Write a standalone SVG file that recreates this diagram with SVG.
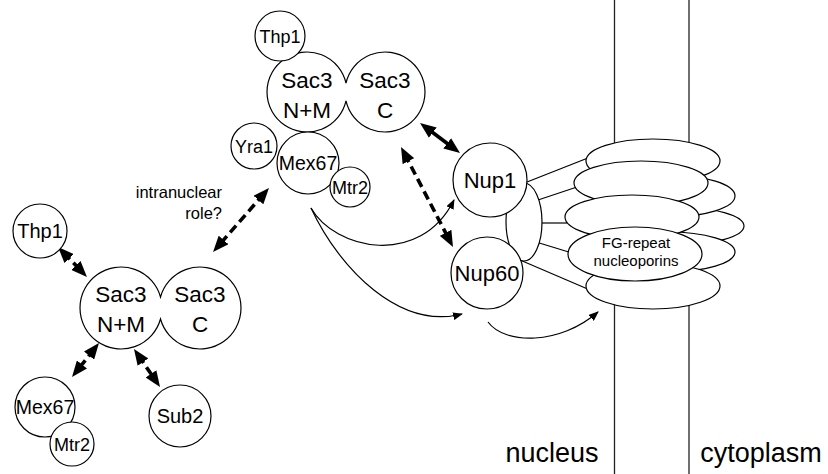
<svg xmlns="http://www.w3.org/2000/svg" width="828" height="474" viewBox="0 0 828 474">
<defs>
<style>
.n{fill:#fff;stroke:#000;stroke-width:1.2}
.t{font-family:"Liberation Sans",Arial,sans-serif;text-anchor:middle;fill:#000}
.big{stroke:#000;stroke-width:3.6;fill:none}
.dash{stroke-dasharray:9 5}
.thin{stroke:#000;stroke-width:1.2;fill:none}
.wall{stroke:#222;stroke-width:1.3}
</style>
<marker id="hb" markerUnits="userSpaceOnUse" markerWidth="16" markerHeight="13" refX="8" refY="6.5" orient="auto-start-reverse"><path d="M0,0 L16,6.5 L0,13 Z" fill="#000"/></marker>
<marker id="hs" markerUnits="userSpaceOnUse" markerWidth="10" markerHeight="8" refX="9" refY="4" orient="auto"><path d="M0,0 L10,4 L0,8 Z" fill="#000"/></marker>
</defs>
<rect width="828" height="474" fill="#fff"/>

<g id="walls">
<line class="wall" x1="614.5" y1="0" x2="614.5" y2="474"/>
<line class="wall" x1="689" y1="0" x2="689" y2="474"/>
<text class="t" x="552" y="462" font-size="27">nucleus</text>
<text class="t" x="761" y="462" font-size="27">cytoplasm</text>
</g>

<g id="pore-links">
<line class="thin" x1="527" y1="182" x2="593" y2="156"/>
<line class="thin" x1="538" y1="200" x2="577" y2="187"/>
<line class="thin" x1="540" y1="223" x2="567" y2="223"/>
<line class="thin" x1="536" y1="242" x2="572" y2="253"/>
<line class="thin" x1="520" y1="260" x2="590" y2="290"/>
</g>

<g id="pore">
<ellipse class="n" cx="677" cy="226" rx="67" ry="19"/>
<ellipse class="n" cx="668" cy="196" rx="67" ry="21"/>
<ellipse class="n" cx="668" cy="252" rx="67" ry="20"/>
<ellipse class="n" cx="653" cy="161" rx="67" ry="22"/>
<ellipse class="n" cx="641" cy="183" rx="67" ry="22"/>
<ellipse class="n" cx="632" cy="217" rx="67" ry="22"/>
<ellipse class="n" cx="653" cy="286" rx="67" ry="23"/>
<g id="fg">
<ellipse class="n" cx="635" cy="254" rx="67" ry="27"/>
<text class="t" x="636" y="248" font-size="15">FG-repeat</text>
<text class="t" x="636" y="266" font-size="15">nucleoporins</text>
</g>
</g>

<g id="nup-linker">
<ellipse class="n" cx="524" cy="222" rx="18" ry="39"/>
</g>

<g id="connectors">
<line class="big dash" x1="63.6" y1="252.8" x2="81.4" y2="271.2" marker-start="url(#hb)" marker-end="url(#hb)"/>
<line class="big dash" x1="94" y1="349.3" x2="77" y2="370.7" marker-start="url(#hb)" marker-end="url(#hb)"/>
<line class="big dash" x1="138.5" y1="355.6" x2="155.5" y2="380.4" marker-start="url(#hb)" marker-end="url(#hb)"/>
<line class="big dash" x1="263.7" y1="194" x2="218.3" y2="246" marker-start="url(#hb)" marker-end="url(#hb)"/>
<line class="big" x1="426.4" y1="127.8" x2="453.6" y2="148.2" marker-start="url(#hb)" marker-end="url(#hb)"/>
<line class="big dash" x1="404.7" y1="154.1" x2="449.3" y2="239.9" marker-start="url(#hb)" marker-end="url(#hb)"/>
<path class="thin" d="M311,208 C335,250 420,268 454,200" marker-end="url(#hs)"/>
<path class="thin" d="M311,208 C340,270 400,330 462,314" marker-end="url(#hs)"/>
<path class="thin" d="M488,322 C505,345 560,345 598,312" marker-end="url(#hs)"/>
<text class="t" x="222" y="198" font-size="16.5" style="text-anchor:end">intranuclear</text>
<text class="t" x="222" y="219" font-size="16.5" style="text-anchor:end">role?</text>
</g>

<g id="sac3-top">
<path class="n" d="M346,83.1 A40,40 0 1,0 346,100.9 A40,40 0 1,0 346,83.1 Z"/>
<text class="t" x="307" y="88" font-size="22.5">Sac3</text>
<text class="t" x="307" y="118" font-size="22.5">N+M</text>
<text class="t" x="385" y="88" font-size="22.5">Sac3</text>
<text class="t" x="385" y="118" font-size="22.5">C</text>
</g>
<g id="thp1-top">
<circle class="n" cx="280" cy="36" r="25"/>
<text class="t" x="280" y="42.5" font-size="18">Thp1</text>
</g>
<g id="yra1-top">
<circle class="n" cx="254" cy="146" r="23"/>
<text class="t" x="254" y="152.5" font-size="18">Yra1</text>
</g>
<g id="mex67-top">
<circle class="n" cx="308" cy="163" r="31"/>
<text class="t" x="308" y="170" font-size="19.5">Mex67</text>
</g>
<g id="mtr2-top">
<circle class="n" cx="350" cy="187" r="20"/>
<text class="t" x="350" y="193.5" font-size="18">Mtr2</text>
</g>

<g id="nup1">
<circle class="n" cx="490" cy="180" r="37"/>
<text class="t" x="490" y="188" font-size="22">Nup1</text>
</g>
<g id="nup60">
<circle class="n" cx="487" cy="273" r="36"/>
<text class="t" x="487" y="281" font-size="22">Nup60</text>
</g>

<g id="sac3-left">
<path class="n" d="M160.5,297 A41,41 0 1,0 160.5,319 A41,41 0 1,0 160.5,297 Z"/>
<text class="t" x="121" y="302" font-size="22.5">Sac3</text>
<text class="t" x="121" y="332" font-size="22.5">N+M</text>
<text class="t" x="200" y="302" font-size="22.5">Sac3</text>
<text class="t" x="200" y="332" font-size="22.5">C</text>
</g>
<g id="thp1-left">
<circle class="n" cx="40" cy="231" r="27"/>
<text class="t" x="40" y="238" font-size="20">Thp1</text>
</g>
<g id="mex67-left">
<circle class="n" cx="45" cy="407" r="30"/>
<text class="t" x="45" y="414" font-size="19.5">Mex67</text>
</g>
<g id="mtr2-left">
<circle class="n" cx="72" cy="444" r="22"/>
<text class="t" x="72" y="450.5" font-size="18">Mtr2</text>
</g>
<g id="sub2">
<circle class="n" cx="180" cy="416" r="31"/>
<text class="t" x="180" y="423" font-size="20">Sub2</text>
</g>
</svg>
